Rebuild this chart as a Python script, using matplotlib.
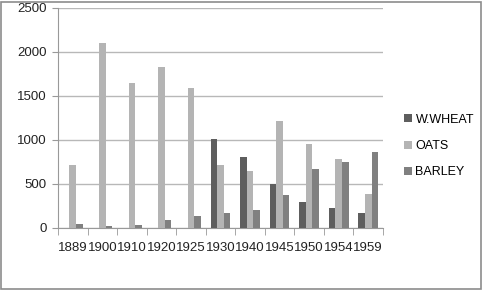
import numpy as np
import matplotlib.pyplot as plt
from matplotlib.patches import Rectangle

years = ["1889", "1900", "1910", "1920", "1925", "1930", "1940", "1945", "1950", "1954", "1959"]
wheat = [0, 0, 0, 0, 0, 1010, 810, 500, 295, 225, 165]
oats = [720, 2100, 1650, 1830, 1590, 720, 645, 1215, 950, 780, 390]
barley = [45, 20, 30, 95, 140, 170, 200, 375, 665, 750, 860]

series = [("W.WHEAT", wheat, "#5e5e5e"), ("OATS", oats, "#b4b4b4"), ("BARLEY", barley, "#808080")]

plt.rcParams['font.family'] = ['Liberation Sans', 'DejaVu Sans']

fig = plt.figure(figsize=(4.83, 2.90), dpi=100)
ax = fig.add_axes([58 / 483, 1 - 228 / 290, (383 - 58) / 483, (228 - 8) / 290])

x = np.arange(len(years))
w = 1 / 4.5
for i, (name, vals, col) in enumerate(series):
    ax.bar(x + (i - 1) * w, vals, width=w, color=col, label=name, zorder=3)

ax.set_xlim(-0.5, len(years) - 0.5)
ax.set_ylim(0, 2500)
ax.set_yticks(range(0, 2501, 500))
ax.yaxis.grid(True, color="#b8b8b8", linewidth=1, zorder=0)
ax.set_xticks(x)
ax.set_xticklabels(years)
ax.set_xticks(np.arange(-0.5, len(years), 1), minor=True)
ax.tick_params(axis="x", which="major", length=0, pad=10, labelsize=9.5, colors="#222222")
ax.tick_params(axis="x", which="minor", length=5, color="#999999")
ax.tick_params(axis="y", length=4, color="#999999", labelsize=9.5, labelcolor="#222222", pad=4)
for s in ["top", "right"]:
    ax.spines[s].set_visible(False)
for s in ["left", "bottom"]:
    ax.spines[s].set_color("#999999")

# legend sits to the right of the plot, vertically centred
fig.legend(loc="center left", bbox_to_anchor=(393 / 483, 1 - 146 / 290), frameon=False,
           fontsize=9, handlelength=0.6, handleheight=0.6, handletextpad=0.3, labelspacing=1.15)

fig.patches.append(Rectangle((0.002, 0.004), 0.994, 0.99, transform=fig.transFigure,
                             fill=False, edgecolor="#8c8c8c", linewidth=1.2))

fig.savefig("out.png", dpi=100)
